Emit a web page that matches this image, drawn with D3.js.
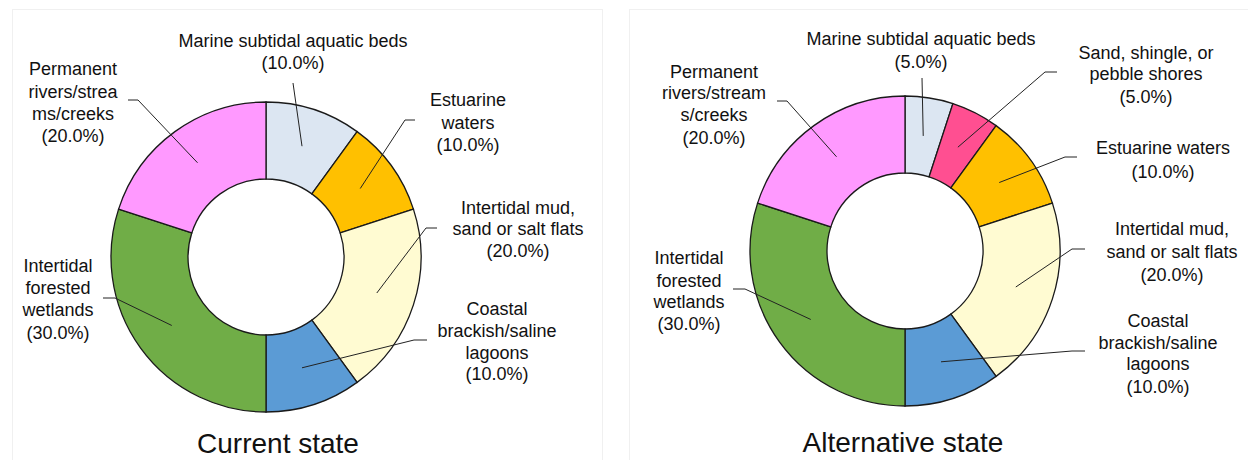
<!DOCTYPE html>
<html>
<head>
<meta charset="utf-8">
<script src="https://cdn.jsdelivr.net/npm/d3@7"></script>
<style>
	body { margin: 0; background: #fff; }
	text { font-family: "Liberation Sans", Arial, sans-serif; fill: #111; }
	.slice { stroke: #1a1a1a; stroke-width: 1.3; }
	.leader { fill: none; stroke: #222; stroke-width: 1; }
	.panel { fill: none; stroke: #f0f0f0; stroke-width: 1; }
</style>
</head>
<body>
<script>

//Chart data
let currentNames = ["Marine subtidal aquatic beds", "Estuarine waters", "Intertidal mud, sand or salt flats",
	"Coastal brackish/saline lagoons", "Intertidal forested wetlands", "Permanent rivers/streams/creeks"];
let currentValues = [10, 10, 20, 10, 30, 20];
let currentColors = ["#dce6f2", "#ffc000", "#fffbd2", "#5b9bd5", "#70ad47", "#ff99ff"];
let currentLabels = [
	["Marine subtidal aquatic beds", "(10.0%)"],
	["Estuarine", "waters", "(10.0%)"],
	["Intertidal mud,", "sand or salt flats", "(20.0%)"],
	["Coastal", "brackish/saline", "lagoons", "(10.0%)"],
	["Intertidal", "forested", "wetlands", "(30.0%)"],
	["Permanent", "rivers/strea", "ms/creeks", "(20.0%)"]
];

let altNames = ["Marine subtidal aquatic beds", "Sand, shingle, or pebble shores", "Estuarine waters",
	"Intertidal mud, sand or salt flats", "Coastal brackish/saline lagoons", "Intertidal forested wetlands",
	"Permanent rivers/streams/creeks"];
let altValues = [5, 5, 10, 20, 10, 30, 20];
let altColors = ["#dce6f2", "#ff4f91", "#ffc000", "#fffbd2", "#5b9bd5", "#70ad47", "#ff99ff"];
let altLabels = [
	["Marine subtidal aquatic beds", "(5.0%)"],
	["Sand, shingle, or", "pebble shores", "(5.0%)"],
	["Estuarine waters", "(10.0%)"],
	["Intertidal mud,", "sand or salt flats", "(20.0%)"],
	["Coastal", "brackish/saline", "lagoons", "(10.0%)"],
	["Intertidal", "forested", "wetlands", "(30.0%)"],
	["Permanent", "rivers/stream", "s/creeks", "(20.0%)"]
];

//Label placement (label centre x, line centre y's, leader elbow points)
let currentLayout = [
	{x: 293, y: [40, 62], elbow: [[293, 83]]},
	{x: 468, y: [99, 122, 144], elbow: [[405, 120], [415, 120]]},
	{x: 518, y: [207, 228, 250], elbow: [[426, 228], [437, 228]]},
	{x: 497, y: [308, 330, 352, 373], elbow: [[414, 340], [427, 340]]},
	{x: 58, y: [265, 287, 309, 332], elbow: [[115, 298], [103, 298]]},
	{x: 73, y: [68, 91, 113, 135], elbow: [[138, 100], [128, 100]]}
];
let altLayout = [
	{x: 921, y: [38, 61], elbow: [[922, 78]]},
	{x: 1146, y: [52, 73, 96], elbow: [[1045, 72], [1057, 72]]},
	{x: 1163, y: [147, 171], elbow: [[1065, 157], [1077, 157]]},
	{x: 1172, y: [228, 251, 274], elbow: [[1072, 249], [1085, 249]]},
	{x: 1158, y: [320, 342, 363, 386], elbow: [[1072, 351], [1085, 351]]},
	{x: 689, y: [257, 280, 301, 323], elbow: [[745, 289], [733, 289]]},
	{x: 714, y: [71, 92, 114, 137], elbow: [[787, 101], [777, 101]]}
];

window.onload = drawCharts();

function drawCharts(){

	let width = 1248;
	let height = 460;

	let svg = d3.select("body")
		.append("svg")
		.attr("width", width)
		.attr("height", height);

	//faint panel frames
	svg.append("rect").attr("class", "panel")
		.attr("x", 12.5).attr("y", 9.5).attr("width", 590).attr("height", 460);
	svg.append("rect").attr("class", "panel")
		.attr("x", 629.5).attr("y", 9.5).attr("width", 630).attr("height", 460);

	drawDonut(svg, {cx: 266, cy: 257, title: "Current state", titleX: 278, titleY: 453},
		currentNames, currentValues, currentColors, currentLabels, currentLayout);
	drawDonut(svg, {cx: 905, cy: 251, title: "Alternative state", titleX: 903, titleY: 452},
		altNames, altValues, altColors, altLabels, altLayout);
};

function drawDonut(svg, opts, names, values, colors, labels, layout){

	let outerR = 155;
	let innerR = 78;

	let pie = d3.pie()
		.sort(null)
		.value(function(d){ return d; });

	let arc = d3.arc()
		.innerRadius(innerR)
		.outerRadius(outerR);

	let color = d3.scaleOrdinal()
		.domain(names)
		.range(colors);

	let arcs = pie(values);

	let g = svg.append("g")
		.attr("transform", "translate(" + opts.cx + "," + opts.cy + ")");

	g.selectAll(".slice")
		.data(arcs)
		.enter()
		.append("path")
		.attr("class", "slice")
		.attr("fill", function(d, i){ return color(names[i]); })
		.attr("d", arc);

	//leader lines from slice centroid to label
	let line = d3.line();
	svg.selectAll(null)
		.data(arcs)
		.enter()
		.append("path")
		.attr("class", "leader")
		.attr("d", function(d, i){
			let c = arc.centroid(d);
			let pts = [[opts.cx + c[0], opts.cy + c[1]]].concat(layout[i].elbow);
			return line(pts);
		});

	//labels
	labels.forEach(function(lines, i){
		let t = svg.append("text")
			.attr("text-anchor", "middle")
			.style("font-size", "18px");
		lines.forEach(function(s, j){
			t.append("tspan")
				.attr("x", layout[i].x)
				.attr("y", layout[i].y[j] + 6.5)
				.text(s);
		});
	});

	svg.append("text")
		.attr("x", opts.titleX)
		.attr("y", opts.titleY)
		.attr("text-anchor", "middle")
		.style("font-size", "28px")
		.text(opts.title);
};
</script>
</body>
</html>
